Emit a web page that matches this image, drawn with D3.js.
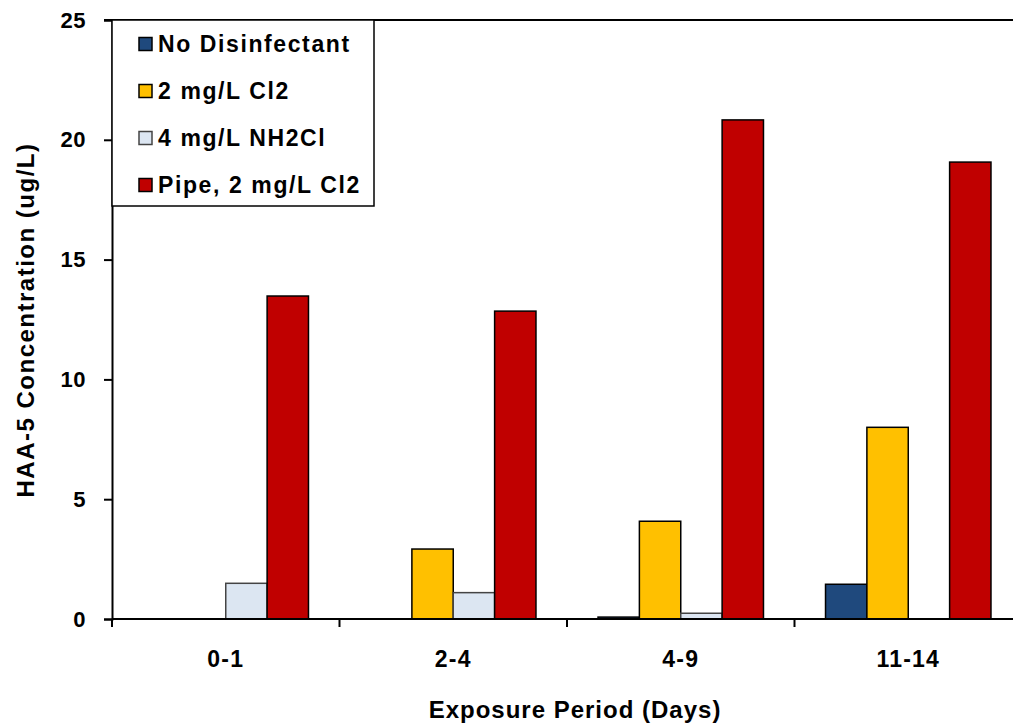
<!DOCTYPE html>
<html>
<head>
<meta charset="utf-8">
<script src="https://cdn.jsdelivr.net/npm/d3@7"></script>
<style>
  html, body { margin: 0; padding: 0; background: #fff; }
  svg { display: block; font-family: "Liberation Sans", Arial, sans-serif; font-weight: bold; }
</style>
</head>
<body>
<svg id="chart" width="1013" height="725"></svg>
<script>
// Exposure periods (days) and HAA-5 concentrations (ug/L) per treatment
const categories = ["0-1", "2-4", "4-9", "11-14"];
const seriesNames = ["No Disinfectant", "2 mg/L Cl2", "4 mg/L NH2Cl", "Pipe, 2 mg/L Cl2"];
const noDisinfectant = [0, 0, 0.08, 1.45];
const cl2 = [0, 2.92, 4.08, 8.0];
const nh2cl = [1.49, 1.1, 0.24, 0];
const pipeCl2 = [13.48, 12.85, 20.83, 19.07];
const yTicks = [0, 5, 10, 15, 20, 25];

const seriesValues = [noDisinfectant, cl2, nh2cl, pipeCl2];
const fills = ["#1F497D", "#FFC000", "#DCE6F2", "#C00000"];
const strokes = ["#000", "#000", "#444", "#000"];
const fontFamily = "Liberation Sans, Arial, sans-serif";

const svg = d3.select("#chart");
const plotLeft = 112, plotTop = 20, plotBottom = 619;
const catStep = 227.5;
const plotRight = plotLeft + catStep * categories.length;

const x0 = d3.scaleBand().domain(categories).range([plotLeft, plotRight]).padding(0);
const x1 = d3.scaleBand().domain(seriesNames).range([0, x0.bandwidth()])
  .paddingInner(0).paddingOuter(0.75);
const y = d3.scaleLinear().domain([0, 25]).range([plotBottom, plotTop]);

// Bars
const groups = svg.append("g").selectAll("g")
  .data(categories)
  .join("g")
  .attr("transform", d => `translate(${x0(d)},0)`);

groups.selectAll("rect")
  .data((c, i) => seriesNames.map((s, k) => ({ s, k, v: seriesValues[k][i] })).filter(d => d.v > 0))
  .join("rect")
  .attr("x", d => x1(d.s))
  .attr("y", d => y(d.v))
  .attr("width", x1.bandwidth())
  .attr("height", d => y(0) - y(d.v))
  .attr("fill", d => fills[d.k])
  .attr("stroke", d => strokes[d.k])
  .attr("stroke-width", 1.5);

// Top border of the plot area
svg.append("line")
  .attr("x1", plotLeft - 8).attr("x2", 1013)
  .attr("y1", plotTop).attr("y2", plotTop)
  .attr("stroke", "#000").attr("stroke-width", 2);

// Y axis
const yAxis = d3.axisLeft(y).tickValues(yTicks).tickSize(8).tickPadding(18)
  .tickFormat(d3.format("d"));
const gy = svg.append("g").attr("transform", `translate(${plotLeft},0)`).call(yAxis);
gy.select(".domain").attr("stroke", "#000").attr("stroke-width", 2);
gy.selectAll(".tick line").attr("stroke", "#000").attr("stroke-width", 2);
gy.selectAll(".tick text").attr("font-size", 22).attr("font-weight", "bold")
  .attr("font-family", fontFamily).attr("fill", "#000").attr("letter-spacing", 0.5);

// X axis
const xAxis = d3.axisBottom(x0).tickSize(0);
const gx = svg.append("g").attr("transform", `translate(0,${plotBottom})`).call(xAxis);
gx.select(".domain").remove();
gx.append("line").attr("x1", plotLeft).attr("x2", 1013).attr("stroke", "#000").attr("stroke-width", 2);
gx.selectAll(".sep")
  .data(categories)
  .join("line")
  .attr("class", "sep")
  .attr("x1", d => x0(d)).attr("x2", d => x0(d))
  .attr("y1", 0).attr("y2", 8)
  .attr("stroke", "#000").attr("stroke-width", 2);
gx.selectAll(".tick text").attr("font-size", 23).attr("font-weight", "bold")
  .attr("font-family", fontFamily).attr("fill", "#000")
  .attr("letter-spacing", 1.2)
  .attr("y", 48).attr("dy", 0);

// Axis titles
svg.append("text")
  .attr("x", 575).attr("y", 718)
  .attr("text-anchor", "middle")
  .attr("font-size", 24)
  .attr("letter-spacing", 1)
  .text("Exposure Period (Days)");

svg.append("text")
  .attr("transform", "translate(34,320) rotate(-90)")
  .attr("text-anchor", "middle")
  .attr("font-size", 24)
  .attr("letter-spacing", 1.5)
  .text("HAA-5 Concentration (ug/L)");

// Legend
const legend = svg.append("g");
legend.append("rect")
  .attr("x", 112).attr("y", plotTop).attr("width", 262).attr("height", 186)
  .attr("fill", "#fff").attr("stroke", "#000").attr("stroke-width", 1.5);
const rows = legend.selectAll(".row")
  .data(seriesNames)
  .join("g")
  .attr("class", "row")
  .attr("transform", (d, i) => `translate(139,${44 + i * 47})`);
rows.append("rect")
  .attr("x", 0).attr("y", -6.5).attr("width", 13).attr("height", 13)
  .attr("fill", (d, i) => fills[i])
  .attr("stroke", (d, i) => strokes[i]).attr("stroke-width", 1.5);
rows.append("text")
  .attr("x", 19).attr("y", 8)
  .attr("font-size", 23)
  .attr("letter-spacing", 1.6)
  .text(d => d);
</script>
</body>
</html>
